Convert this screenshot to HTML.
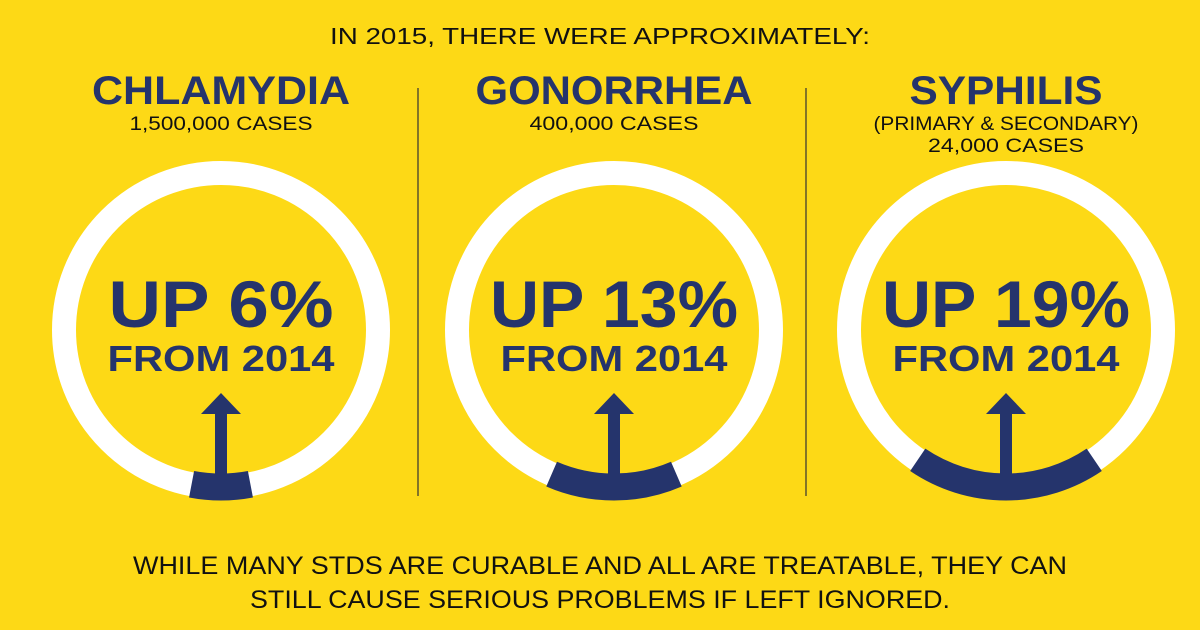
<!DOCTYPE html>
<html><head><meta charset="utf-8"><style>
body{margin:0;width:1200px;height:630px;background:#FDD916;overflow:hidden;font-family:"Liberation Sans",Arial,sans-serif}
svg{display:block}
</style></head><body>
<svg width="1200" height="630">
<text x="600" y="44" text-anchor="middle" font-size="23" fill="#111" textLength="540" lengthAdjust="spacingAndGlyphs">IN 2015, THERE WERE APPROXIMATELY:</text>
<line x1="418" y1="88" x2="418" y2="496" stroke="#333" stroke-width="1.2"/>
<line x1="806" y1="88" x2="806" y2="496" stroke="#333" stroke-width="1.2"/>
<g id="panels"></g>
<text x="600" y="574" text-anchor="middle" font-size="25" fill="#111" textLength="934" lengthAdjust="spacingAndGlyphs">WHILE MANY STDS ARE CURABLE AND ALL ARE TREATABLE, THEY CAN</text>
<text x="600" y="608" text-anchor="middle" font-size="25" fill="#111" textLength="700" lengthAdjust="spacingAndGlyphs">STILL CAUSE SERIOUS PROBLEMS IF LEFT IGNORED.</text>
</svg>
<script>
const diseases=["CHLAMYDIA","GONORRHEA","SYPHILIS"];
const casesText=[["1,500,000 CASES"],["400,000 CASES"],["(PRIMARY & SECONDARY)","24,000 CASES"]];
const increases=[6,13,19];
const centers=[221,614,1006];
const titleW=[258,277,193];
const casesW=[[183],[169],[265,156]];
const NS="http://www.w3.org/2000/svg";
const g=document.getElementById('panels');
const navy="#25346C";
function mk(tag,attrs,parent){const e=document.createElementNS(NS,tag);for(const k in attrs)e.setAttribute(k,attrs[k]);(parent||g).appendChild(e);return e;}
const cy=330,r=157;
diseases.forEach((d,i)=>{
  const cx=centers[i];
  const t=mk('text',{x:cx,y:104,'text-anchor':'middle','font-size':40,'font-weight':'bold',fill:navy,textLength:titleW[i],lengthAdjust:'spacingAndGlyphs'});
  t.textContent=d;
  
  
  casesText[i].forEach((s,j)=>{
    const c=mk('text',{x:cx,y:130+j*22,'text-anchor':'middle','font-size':19,fill:'#111',textLength:casesW[i][j],lengthAdjust:'spacingAndGlyphs'});
    c.textContent=s;
    
    
  });
  const ring=mk('circle',{cx:cx,cy:cy,r:r,fill:'none',stroke:'#fff','stroke-width':24});
  
  
  const half=increases[i]/100*Math.PI;
  const a1=Math.PI/2+half,a2=Math.PI/2-half;
  const x1=cx+r*Math.cos(a1),y1=cy+r*Math.sin(a1),x2=cx+r*Math.cos(a2),y2=cy+r*Math.sin(a2);
  const arc=mk('path',{d:`M${x1} ${y1} A${r} ${r} 0 0 0 ${x2} ${y2}`,fill:'none',stroke:navy,'stroke-width':27});
  
  
  const ar=mk('path',{d:`M${cx-6} ${cy+157} L${cx-6} ${cy+84} L${cx-20} ${cy+84} L${cx} ${cy+63} L${cx+20} ${cy+84} L${cx+6} ${cy+84} L${cx+6} ${cy+157} Z`,fill:navy});
  
  
  const u=mk('text',{x:cx,y:327,'text-anchor':'middle','font-size':66,'font-weight':'bold',fill:navy,textLength:increases[i]<10?225:248,lengthAdjust:'spacingAndGlyphs'});
  u.textContent='UP '+increases[i]+'%';
  
  
  const f=mk('text',{x:cx,y:371,'text-anchor':'middle','font-size':36,'font-weight':'bold',fill:navy,textLength:227,lengthAdjust:'spacingAndGlyphs'});
  f.textContent='FROM 2014';
  
  
});
</script>
</body></html>
